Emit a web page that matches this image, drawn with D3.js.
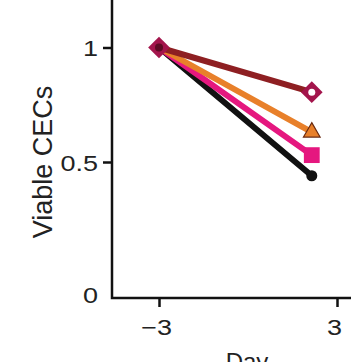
<!DOCTYPE html>
<html><head><meta charset="utf-8">
<script src="https://cdn.jsdelivr.net/npm/d3@7"></script>
<style>body{margin:0;background:#fff}svg{display:block}text{font-family:"Liberation Sans",Arial,sans-serif;fill:#222}</style>
</head><body>
<svg id="c" width="351" height="362"></svg>
<script>
const days = [-3, 2.15];
const seriesNames = ["black", "pink", "orange", "maroon"];
const seriesValues = {
  black:  [1, 0.44],
  pink:   [1, 0.53],
  orange: [1, 0.63],
  maroon: [1, 0.805]
};
const yTicks = [0.5, 1];
const xTicks = [-3, 3];
const lineColors = {black:"#111", pink:"#e5177f", orange:"#e8802a", maroon:"#8e1f22"};

const svg = d3.select("#c");
const x = d3.scaleLinear().domain([-3, 3]).range([159, 337]);
const y = d3.scaleLinear().domain([0.5, 1]).range([162, 47.5]);
const axX = 112, axY = 298;
const sx = 1.2, fs = "22.5px";

// axes
const gy = svg.append("g").attr("transform", `translate(${axX},0)`)
  .call(d3.axisLeft(y).tickValues(yTicks).tickFormat(d3.format("")).tickSize(9).tickPadding(6));
gy.select(".domain").remove();
gy.selectAll(".tick line").attr("stroke","#111").attr("stroke-width",2.5);
gy.selectAll(".tick text").style("font-size",fs).attr("fill","#222").attr("dy","0.36em")
  .attr("transform",`scale(${sx},1)`).attr("x", -14/sx);

svg.append("text").attr("x", 0).attr("y", 0).attr("text-anchor","end")
  .attr("dy","0.36em").style("font-size",fs)
  .attr("transform",`translate(98,295) scale(${sx},1)`).text("0");

const gx = svg.append("g").attr("transform", `translate(0,${axY})`)
  .call(d3.axisBottom(x).tickValues(xTicks).tickFormat(d => d < 0 ? "\u2212" + Math.abs(d) : d).tickSize(9).tickPadding(6));
gx.select(".domain").remove();
gx.selectAll(".tick line").attr("stroke","#111").attr("stroke-width",2.5);
gx.selectAll(".tick text").style("font-size",fs).attr("fill","#222").attr("dy","1.0em")
  .attr("transform",`scale(${sx},1)`).attr("x", -3/sx);

svg.append("path").attr("d", `M${axX},0V${axY}H351`).attr("fill","none").attr("stroke","#111").attr("stroke-width",2.5);

svg.append("text").attr("transform","translate(52,162) rotate(-90)").attr("text-anchor","middle")
  .style("font-size","27px").text("Viable CECs");
svg.append("text").attr("x",247).attr("y",370).attr("text-anchor","middle").style("font-size","24px").text("Day");

// lines
const line = d3.line().x((d,i)=>x(days[i])).y(d=>y(d));
seriesNames.forEach(n=>{
  svg.append("path").datum(seriesValues[n]).attr("d", line)
    .attr("fill","none").attr("stroke", lineColors[n]).attr("stroke-width",6).attr("stroke-linecap","round");
});

// end markers
const ex = x(days[1]);
svg.append("circle").attr("cx", ex).attr("cy", y(seriesValues.black[1])).attr("r", 5.5).attr("fill","#111");
svg.append("path").attr("d", d3.symbol(d3.symbolSquare, 250)())
  .attr("transform", `translate(${ex},${y(seriesValues.pink[1])})`).attr("fill", lineColors.pink);
svg.append("path").attr("d", d3.symbol(d3.symbolTriangle, 120)())
  .attr("transform", `translate(${ex},${y(seriesValues.orange[1])})`).attr("fill", lineColors.orange)
  .attr("stroke","#6a2a10").attr("stroke-width",1.2);
const dia = d3.symbol(d3.symbolDiamond2, 300)();
svg.append("path").attr("d", dia).attr("transform", `translate(${ex},${y(seriesValues.maroon[1])})`)
  .attr("fill","#a3154c");
svg.append("circle").attr("cx", ex).attr("cy", y(seriesValues.maroon[1])).attr("r", 3.5).attr("fill","#fff");
// start marker
svg.append("path").attr("d", dia).attr("transform", `translate(${x(days[0])},${y(1)})`)
  .attr("fill","#a3154c");
svg.append("circle").attr("cx", x(days[0])).attr("cy", y(1)).attr("r", 4).attr("fill","#5c0b24");
</script>
</body></html>
